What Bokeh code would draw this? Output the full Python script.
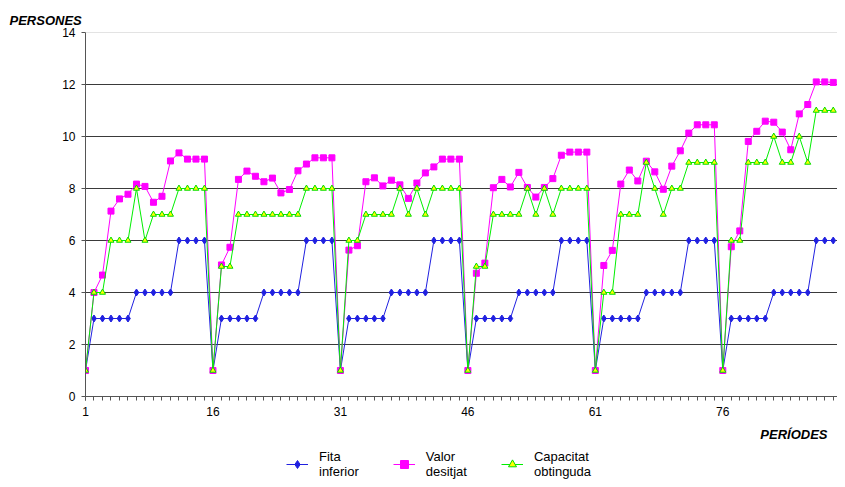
from bokeh.plotting import figure
from bokeh.layouts import column
from bokeh.models import Range1d, FixedTicker, Legend, LegendItem, Span, Title
from bokeh.embed import file_html
from bokeh.resources import INLINE

periods = list(range(1, 90))

fita_inferior = [
    1, 3, 3, 3, 3, 3, 4, 4, 4, 4, 4, 6, 6, 6, 6,
    1, 3, 3, 3, 3, 3, 4, 4, 4, 4, 4, 6, 6, 6, 6,
    1, 3, 3, 3, 3, 3, 4, 4, 4, 4, 4, 6, 6, 6, 6,
    1, 3, 3, 3, 3, 3, 4, 4, 4, 4, 4, 6, 6, 6, 6,
    1, 3, 3, 3, 3, 3, 4, 4, 4, 4, 4, 6, 6, 6, 6,
    1, 3, 3, 3, 3, 3, 4, 4, 4, 4, 4, 6, 6, 6,
]

valor_desitjat = [
    1, 4.0, 4.67, 7.13, 7.6, 7.78, 8.17, 8.08, 7.47, 7.7, 9.06, 9.37, 9.13, 9.13, 9.13,
    1, 5.06, 5.74, 8.35, 8.67, 8.47, 8.26, 8.4, 7.83, 7.96, 8.68, 8.94, 9.18, 9.18, 9.18,
    1, 5.63, 5.8, 8.26, 8.41, 8.1, 8.32, 8.14, 7.62, 8.21, 8.6, 8.83, 9.13, 9.13, 9.13,
    1, 4.74, 5.13, 8.03, 8.35, 8.06, 8.62, 8.04, 7.67, 8.04, 8.38, 9.28, 9.4, 9.4, 9.4,
    1, 5.04, 5.62, 8.17, 8.71, 8.29, 9.05, 8.64, 7.97, 8.86, 9.45, 10.13, 10.45, 10.45, 10.45,
    1, 5.76, 6.37, 9.81, 10.2, 10.59, 10.55, 10.17, 9.49, 10.87, 11.23, 12.1, 12.1, 12.08,
]

capacitat_obtinguda = [
    1, 4, 4, 6, 6, 6, 8, 6, 7, 7, 7, 8, 8, 8, 8,
    1, 5, 5, 7, 7, 7, 7, 7, 7, 7, 7, 8, 8, 8, 8,
    1, 6, 6, 7, 7, 7, 7, 8, 7, 8, 7, 8, 8, 8, 8,
    1, 5, 5, 7, 7, 7, 7, 8, 7, 8, 7, 8, 8, 8, 8,
    1, 4, 4, 7, 7, 7, 9, 8, 7, 8, 8, 9, 9, 9, 9,
    1, 6, 6, 9, 9, 9, 10, 9, 9, 10, 9, 11, 11, 11,
]

series_names = ["Fita\ninferior", "Valor\ndesitjat", "Capacitat\nobtinguda"]

x_ticks = [1, 16, 31, 46, 61, 76]
y_ticks = [0, 2, 4, 6, 8, 10, 12, 14]

FONT = "Liberation Sans"
BLUE, MAGENTA, GREEN, YELLOW = "#2020E0", "#FF00FF", "#00EE00", "#FFFF00"


def draw_series(fig):
    l1 = fig.line(periods, fita_inferior, line_color=BLUE, line_width=1)
    m1 = fig.scatter(periods, fita_inferior, marker="diamond", size=7,
                     fill_color=BLUE, line_color=BLUE)
    l2 = fig.line(periods, valor_desitjat, line_color=MAGENTA, line_width=1)
    m2 = fig.scatter(periods, valor_desitjat, marker="square", size=6,
                     fill_color=MAGENTA, line_color=MAGENTA)
    l3 = fig.line(periods, capacitat_obtinguda, line_color=GREEN, line_width=1)
    m3 = fig.scatter(periods, capacitat_obtinguda, marker="triangle", size=6,
                     fill_color=YELLOW, line_color="#00DD00")
    return [[l1, m1], [l2, m2], [l3, m3]]


p = figure(width=837, height=448, output_backend="svg", toolbar_location=None,
           x_range=Range1d(1, 89.5), y_range=Range1d(0, 14))
p.min_border_left = 85
p.min_border_right = 0
p.min_border_top = 32
p.min_border_bottom = 51
p.outline_line_color = None
p.background_fill_color = "white"
p.border_fill_color = "white"

p.title.text = "PERSONES"
p.title.align = "left"
p.title.offset = -76
p.title.text_font = FONT
p.title.text_font_size = "13px"
p.title.text_font_style = "bold italic"
p.title.text_color = "black"
p.title.standoff = 10

p.xgrid.visible = False
p.ygrid.ticker = FixedTicker(ticks=y_ticks[1:-1])
p.ygrid.grid_line_color = "#3a3a3a"
p.ygrid.grid_line_width = 1
p.add_layout(Span(location=14, dimension="width", line_color="#c8c8c8", line_width=1))

xa = p.xaxis[0]
xa.ticker = FixedTicker(ticks=x_ticks, minor_ticks=periods)
xa.axis_line_color = "#555555"
xa.major_tick_line_color = "#555555"
xa.minor_tick_line_color = "#555555"
xa.major_tick_in = 0
xa.major_tick_out = 4
xa.minor_tick_in = 0
xa.minor_tick_out = 4
xa.major_label_text_font = FONT
xa.major_label_text_font_size = "12px"
xa.major_label_text_color = "black"
xa.major_label_standoff = 6

ya = p.yaxis[0]
ya.ticker = FixedTicker(ticks=y_ticks)
ya.axis_line_color = "#555555"
ya.major_tick_line_color = "#555555"
ya.minor_tick_line_color = None
ya.major_tick_in = 0
ya.major_tick_out = 4
ya.major_label_text_font = FONT
ya.major_label_text_font_size = "12px"
ya.major_label_text_color = "black"
ya.major_label_standoff = 6

draw_series(p)

t_per = Title(text="PERÍODES", align="right", offset=10,
              text_font=FONT, text_font_size="13px", text_font_style="bold italic",
              text_color="black", standoff=13)
p.add_layout(t_per, "below")

# Legend strip below the chart (its series copies lie outside its visible range)
lf = figure(width=837, height=31, output_backend="svg", toolbar_location=None,
            x_range=p.x_range, y_range=Range1d(100, 101),
            x_axis_location=None, y_axis_location=None)
lf.min_border = 0
lf.min_border_left = 0
lf.min_border_right = 0
lf.min_border_top = 0
lf.min_border_bottom = 0
lf.outline_line_color = None
lf.xgrid.visible = False
lf.ygrid.visible = False
lf.background_fill_color = "white"
lf.border_fill_color = "white"
groups = draw_series(lf)

legend = Legend(items=[LegendItem(label=name, renderers=rs)
                       for name, rs in zip(series_names, groups)],
                orientation="horizontal", location=(201, 0))
legend.label_text_font = FONT
legend.label_text_font_size = "13px"
legend.label_text_color = "black"
legend.glyph_width = 22
legend.spacing = 34
legend.label_standoff = 11
legend.border_line_color = None
legend.background_fill_alpha = 0
legend.padding = 0
legend.margin = 0
lf.add_layout(legend, "center")

layout = column(p, lf, spacing=0)

open("out.html", "w").write(file_html(layout, INLINE))
